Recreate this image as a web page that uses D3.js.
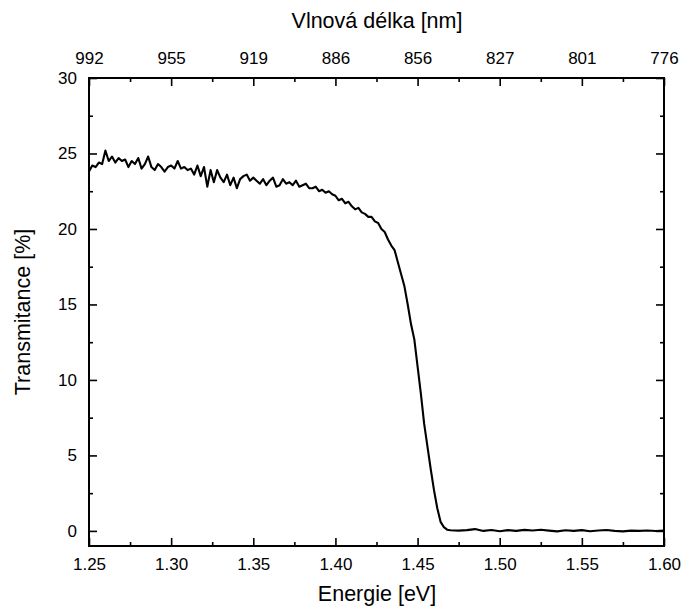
<!DOCTYPE html>
<html><head><meta charset="utf-8">
<script src="https://cdn.jsdelivr.net/npm/d3@7"></script>
<style>body{margin:0;background:#fff}svg{display:block}text{font-family:"Liberation Sans",Arial,sans-serif;fill:#000}</style>
</head><body><svg id="c" width="686" height="612"></svg>
<script>
const energy = [
1.250,1.252,1.254,1.256,1.258,1.260,1.262,1.264,1.266,1.268,1.270,1.272,1.274,1.276,1.278,1.280,1.282,1.284,1.286,1.288,
1.290,1.292,1.294,1.296,1.298,1.300,1.302,1.304,1.306,1.308,1.310,1.312,1.314,1.316,1.318,1.320,1.322,1.324,1.326,1.328,
1.330,1.332,1.334,1.336,1.338,1.340,1.342,1.344,1.346,1.348,1.350,1.352,1.354,1.356,1.358,1.360,1.362,1.364,1.366,1.368,
1.370,1.372,1.374,1.376,1.378,1.380,1.382,1.384,1.386,1.388,1.390,1.392,1.394,1.396,1.398,
1.400,1.402,1.404,1.406,1.408,1.410,1.412,1.414,1.416,1.418,1.420,1.422,1.424,1.426,1.428,1.430,1.432,1.434,1.436,1.438,
1.440,1.442,1.444,1.446,1.448,1.450,1.452,1.454,1.456,1.458,1.460,1.462,1.464,1.466,1.468,1.470,
1.475,1.480,1.485,1.490,1.495,1.500,1.505,1.510,1.515,1.520,1.525,1.530,1.535,1.540,1.545,1.550,1.555,1.560,1.565,1.570,
1.575,1.580,1.585,1.590,1.595,1.600];
const transmittance = [
23.8,24.2,24.1,24.4,24.3,25.2,24.5,24.8,24.4,24.7,24.5,24.6,24.1,24.5,24.3,24.7,24.0,24.3,24.8,24.1,
23.9,24.3,24.1,23.8,24.1,24.2,24.0,24.5,24.0,24.1,23.9,24.0,23.6,24.2,23.5,24.1,22.8,23.9,23.1,23.9,
23.4,23.1,23.6,22.9,23.4,22.7,23.3,23.5,23.6,23.2,23.4,23.2,23.0,23.3,22.9,23.2,23.4,22.8,22.9,23.3,
23.0,23.1,22.9,23.2,22.8,22.9,23.0,22.7,22.7,22.8,22.5,22.6,22.4,22.5,22.3,
22.2,21.9,22.0,21.7,21.8,21.5,21.3,21.4,21.1,21.0,20.8,20.8,20.5,20.4,20.0,19.8,19.3,18.9,18.6,17.8,
17.0,16.2,15.0,13.7,12.7,10.9,9.1,7.1,5.6,4.1,2.7,1.5,0.6,0.25,0.08,0.04,
0.02,0.05,0.12,0.0,0.06,-0.02,0.05,0.0,0.07,0.03,0.08,0.02,-0.03,0.04,0.0,0.05,-0.02,0.03,0.06,0.0,
-0.03,0.02,0.0,0.03,-0.01,0.02];
const bottomTicks = [1.25,1.30,1.35,1.40,1.45,1.50,1.55,1.60];
const topTickLabels = ["992","955","919","886","856","827","801","776"];
const leftTicks = [0,5,10,15,20,25,30];

const svg = d3.select("#c");
const L=89,R=664,T=78,B=546;
const x = d3.scaleLinear().domain([1.25,1.60]).range([L,R]);
const y = d3.scaleLinear().domain([-1,30]).range([B,T]);
const minorX = d3.range(0,15).map(i=>1.25+i*0.025).filter(v=>v<1.6+1e-9 && !bottomTicks.some(b=>Math.abs(b-v)<1e-9));
const minorY = d3.range(0,13).map(i=>i*2.5).filter(v=>v%5!==0);

const fs=17;
svg.append("g").attr("transform",`translate(0,${B})`)
  .call(d3.axisBottom(x).tickValues(bottomTicks).tickFormat(d3.format(".2f")).tickSizeInner(-8).tickSizeOuter(0).tickPadding(12));
svg.append("g").attr("transform",`translate(0,${B})`)
  .call(d3.axisBottom(x).tickValues(minorX).tickFormat("").tickSizeInner(-4).tickSizeOuter(0));
svg.append("g").attr("transform",`translate(0,${T})`)
  .call(d3.axisTop(x).tickValues(bottomTicks).tickFormat((d,i)=>topTickLabels[i]).tickSizeInner(-8).tickSizeOuter(0).tickPadding(14));
svg.append("g").attr("transform",`translate(0,${T})`)
  .call(d3.axisTop(x).tickValues(minorX).tickFormat("").tickSizeInner(-4).tickSizeOuter(0));
svg.append("g").attr("transform",`translate(${L},0)`)
  .call(d3.axisLeft(y).tickValues(leftTicks).tickFormat(d3.format("d")).tickSizeInner(-8).tickSizeOuter(0).tickPadding(12));
svg.append("g").attr("transform",`translate(${L},0)`)
  .call(d3.axisLeft(y).tickValues(minorY).tickFormat("").tickSizeInner(-4).tickSizeOuter(0));
svg.append("g").attr("transform",`translate(${R},0)`)
  .call(d3.axisRight(y).tickValues(leftTicks).tickFormat("").tickSizeInner(-8).tickSizeOuter(0));
svg.append("g").attr("transform",`translate(${R},0)`)
  .call(d3.axisRight(y).tickValues(minorY).tickFormat("").tickSizeInner(-4).tickSizeOuter(0));

svg.selectAll(".domain").remove();
svg.selectAll(".tick line").attr("stroke","#000").attr("stroke-width",1.6);
svg.selectAll(".tick text").attr("font-size",fs).attr("font-family","'Liberation Sans',Arial,sans-serif").attr("fill","#000");

svg.append("rect").attr("x",L).attr("y",T).attr("width",R-L).attr("height",B-T)
  .attr("fill","none").attr("stroke","#000").attr("stroke-width",2);

const pts = energy.map((e,i)=>[e,transmittance[i]]);
svg.append("path").datum(pts)
  .attr("fill","none").attr("stroke","#000").attr("stroke-width",2.1).attr("stroke-linejoin","round")
  .attr("d",d3.line().x(d=>x(d[0])).y(d=>y(d[1])));

svg.append("text").attr("x",377).attr("y",28).attr("text-anchor","middle").attr("font-size",21.5).text("Vlnová délka [nm]");
svg.append("text").attr("x",377).attr("y",601).attr("text-anchor","middle").attr("font-size",21.5).text("Energie [eV]");
svg.append("text").attr("transform",`translate(30,${(T+B)/2}) rotate(-90)`).attr("text-anchor","middle").attr("font-size",21.5).text("Transmitance [%]");
</script></body></html>
